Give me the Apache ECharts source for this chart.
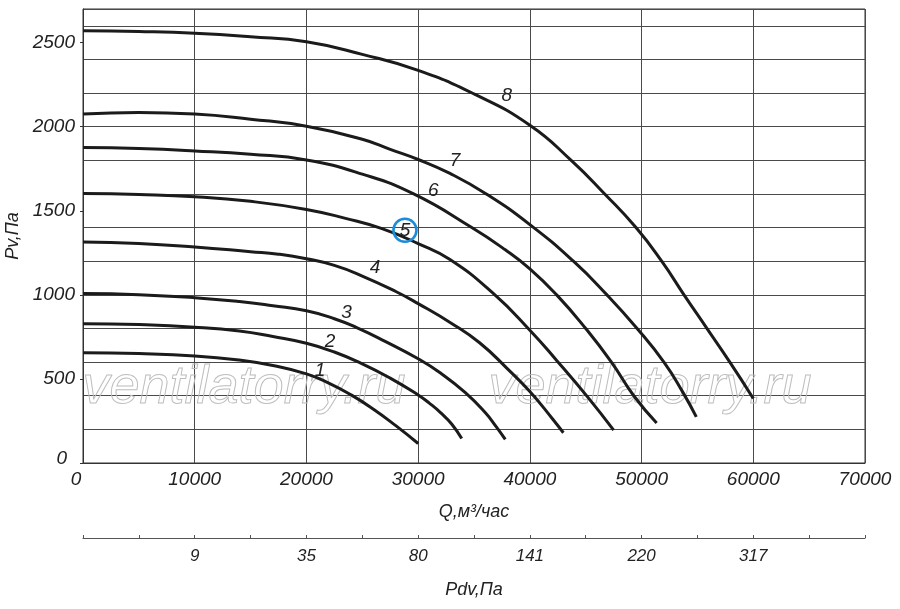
<!DOCTYPE html>
<html lang="ru">
<head>
<meta charset="UTF-8">
<title>Pv - Q</title>
<script src="https://cdn.jsdelivr.net/npm/echarts@6/dist/echarts.min.js"></script>
<style>html,body{margin:0;padding:0;background:#fff}</style>
</head>
<body>
<div id="chart" style="width:900px;height:609px"></div>
<script>
// кривые Pv(Q), точки [Q, Pv]
var curve1 = [[0,656],[5000,651],[10000,637],[14000,612],[17000,580],[20000,530],[22000,475],[24000,405],[26000,320],[28000,222],[30000,116]];
var curve2 = [[0,828],[5000,823],[10000,808],[14000,785],[17000,752],[20000,712],[22500,660],[25000,590],[27500,505],[30000,405],[31000,356],[32000,300],[33000,232],[33900,145]];
var curve3 = [[0,1008],[5000,1001],[10000,983],[14000,960],[17000,935],[20000,905],[22500,858],[24500,805],[27000,725],[30000,620],[32000,535],[34200,420],[36000,300],[37000,215],[37800,140]];
var curve4 = [[0,1315],[5000,1306],[10000,1285],[15000,1257],[17500,1242],[20000,1215],[22500,1175],[25000,1112],[28000,1020],[30000,948],[33000,830],[35500,715],[38000,560],[40000,425],[42000,265],[43000,180]];
var curve5 = [[0,1603],[5000,1597],[10000,1584],[15000,1556],[20000,1508],[23500,1455],[26700,1395],[30000,1305],[32850,1210],[36700,1010],[40000,790],[42400,610],[45200,390],[47500,195]];
var curve6 = [[0,1876],[5000,1870],[10000,1856],[15000,1836],[20000,1802],[25000,1718],[29600,1600],[34800,1400],[37800,1268],[40000,1155],[42400,1000],[45000,800],[47300,600],[49300,400],[51350,238]];
var curve7 = [[0,2075],[5000,2085],[10000,2076],[15000,2045],[20000,2003],[25000,1925],[27500,1865],[30000,1805],[32850,1722],[36100,1600],[40000,1418],[43900,1200],[46900,1000],[49600,800],[52000,600],[53700,420],[54900,274]];
var curve8 = [[0,2570],[5000,2566],[10000,2556],[15000,2535],[20000,2505],[25000,2430],[30000,2335],[35000,2195],[40000,2009],[43700,1800],[46700,1600],[49500,1400],[51800,1200],[53800,1000],[55800,805],[57900,600],[60000,384]];

var curves = [curve1, curve2, curve3, curve4, curve5, curve6, curve7, curve8];
var curveNames = ['1', '2', '3', '4', '5', '6', '7', '8'];
// где стоят номера кривых, [Q, Pv]
var labelPos = [[21210,551],[22110,722],[23600,891],[26140,1160],[28820,1384],[31360,1617],[33300,1796],[37930,2184]];

var yLabels = [0, 500, 1000, 1500, 2000, 2500];
var pdvAt = [10000, 20000, 30000, 40000, 50000, 60000];
var pdvLabels = ['9', '35', '80', '141', '220', '317'];

var font = '"Liberation Sans", Arial, sans-serif';
var txt = '#222';

var chart = echarts.init(document.getElementById('chart'));

var series = curves.map(function (c, i) {
    var ring = (i === 4);
    return {
        name: curveNames[i],
        type: 'line',
        data: c,
        smooth: 0.5,
        symbol: 'none',
        lineStyle: { color: '#1b1b1b', width: 3 },
        z: 3,
        markPoint: {
            symbol: 'circle',
            symbolSize: ring ? 23 : 0,
            itemStyle: ring ? { color: 'rgba(0,0,0,0)', borderColor: '#1a8cd8', borderWidth: 2.6 } : { color: 'rgba(0,0,0,0)' },
            label: {
                show: true,
                position: 'inside',
                formatter: function (p) { return p.name; },
                color: txt,
                fontFamily: font,
                fontStyle: 'italic',
                fontSize: 19
            },
            data: [{ name: curveNames[i], coord: labelPos[i] }]
        }
    };
});

var option = {
    animation: false,
    backgroundColor: '#fff',
    grid: {
        left: 83, right: 35, top: 9, bottom: 146,
        outerBoundsMode: 'none',
        containLabel: false,
        show: true, borderColor: '#333', borderWidth: 1
    },
    xAxis: [{
        type: 'value',
        min: 0, max: 70000, interval: 10000,
        name: 'Q,м³/час',
        nameLocation: 'middle',
        nameGap: 40,
        nameTextStyle: { color: txt, fontFamily: font, fontStyle: 'italic', fontSize: 18 },
        axisLine: { show: true, onZero: false, lineStyle: { color: '#333', width: 1 } },
        axisTick: { show: false },
        axisLabel: {
            color: txt, fontFamily: font, fontStyle: 'italic', fontSize: 19, margin: 7,
            formatter: function (v) { return v === 0 ? '{z|0}' : String(v); },
            rich: { z: { fontFamily: font, fontStyle: 'italic', fontSize: 19, color: txt, padding: [0, 14, 0, 0] } }
        },
        splitLine: { show: true, lineStyle: { color: '#4a4a4a', width: 1 } }
    }, {
        type: 'value',
        position: 'bottom',
        offset: 75,
        min: 0, max: 70000, interval: 5000,
        name: 'Pdv,Па',
        nameLocation: 'middle',
        nameGap: 43,
        nameTextStyle: { color: txt, fontFamily: font, fontStyle: 'italic', fontSize: 18 },
        axisLine: { show: true, onZero: false, lineStyle: { color: '#555', width: 1.2 } },
        axisTick: { show: true, inside: true, length: 3, lineStyle: { color: '#555' } },
        axisLabel: {
            color: txt, fontFamily: font, fontStyle: 'italic', fontSize: 17, margin: 10,
            customValues: pdvAt,
            formatter: function (v) { var k = pdvAt.indexOf(v); return k < 0 ? '' : pdvLabels[k]; }
        },
        splitLine: { show: false }
    }],
    yAxis: [{
        // сетка через 200 Па
        type: 'value',
        min: 0, max: 2700, interval: 200,
        axisLine: { show: true, onZero: false, lineStyle: { color: '#333', width: 1 } },
        axisTick: { show: false },
        axisLabel: { show: false },
        splitLine: { show: true, lineStyle: { color: '#4a4a4a', width: 1 } }
    }, {
        // подписи через 500 Па
        type: 'value',
        position: 'left',
        min: 0, max: 2700, interval: 500,
        name: 'Pv,Па',
        nameLocation: 'middle',
        nameGap: 50,
        nameRotate: 90,
        nameTextStyle: { color: txt, fontFamily: font, fontStyle: 'italic', fontSize: 18 },
        axisLine: { show: false, onZero: false },
        axisTick: { show: true, length: 3, customValues: yLabels, lineStyle: { color: '#333' } },
        axisLabel: {
            color: txt, fontFamily: font, fontStyle: 'italic', fontSize: 19, margin: 8,
            customValues: yLabels,
            formatter: function (v) { return v === 0 ? '{z|0}' : String(v); },
            rich: { z: { fontFamily: font, fontStyle: 'italic', fontSize: 19, color: txt, padding: [0, 8, 8, 0] } }
        },
        splitLine: { show: false }
    }],
    graphic: [{
        type: 'text', left: 82, top: 360, z: 1, silent: true,
        style: { text: 'ventilatorry.ru', font: 'italic 54px "Liberation Sans", Arial, sans-serif', fill: 'rgba(255,255,255,0)', stroke: '#bdbdbd', lineWidth: 1 }
    }, {
        type: 'text', left: 488, top: 360, z: 1, silent: true,
        style: { text: 'ventilatorry.ru', font: 'italic 54px "Liberation Sans", Arial, sans-serif', fill: 'rgba(255,255,255,0)', stroke: '#bdbdbd', lineWidth: 1 }
    }],
    series: series
};

chart.setOption(option);
</script>
</body>
</html>
